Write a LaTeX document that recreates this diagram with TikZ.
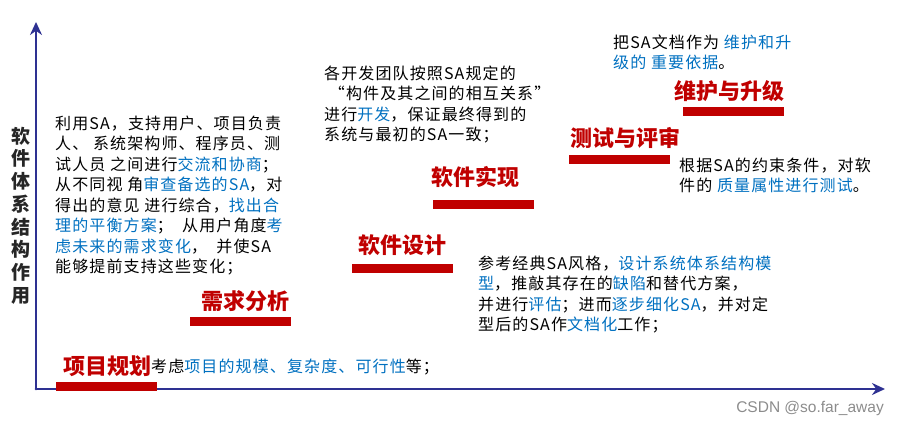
\documentclass[tikz,border=0pt]{standalone}
\usepackage{fontspec}
\newfontfamily\cjk{Noto Sans CJK SC}
\newfontfamily\cjknote[LetterSpace=7]{Noto Sans CJK SC}
\newfontfamily\wmfont{Liberation Sans}
\usetikzlibrary{arrows.meta}
\definecolor{axisblue}{HTML}{2E3192}
\definecolor{stagered}{HTML}{C00000}
\definecolor{keyblue}{HTML}{0070C0}
\newcommand{\kw}[1]{\textcolor{keyblue}{#1}}

\begin{document}
\begin{tikzpicture}[x=1pt,y=-1pt,line cap=round,line join=round,
  >={Stealth[length=13pt,width=12pt]},
  every node/.style={inner sep=0pt,font=\cjk},
  stage/.style={text=stagered,font=\cjk\bfseries\fontsize{22}{24}\selectfont},
  bar/.style={fill=stagered,minimum width=101pt,minimum height=9pt},
  note/.style={anchor=north west,align=left,
    font=\cjknote\fontsize{16}{20.5}\selectfont}]
  \useasboundingbox (0,0) rectangle (899,427);

  % axes
  \coordinate (origin) at (36,389);
  \coordinate (ytop) at (36,22);
  \coordinate (xend) at (885,389);
  \draw[axisblue,line width=2.8pt,->] (origin) -- (ytop);
  \draw[axisblue,line width=2.8pt,->] (origin) -- (xend);
  \node[font=\cjk\bfseries\fontsize{19}{22.7}\selectfont,align=center,
    text=black!85] (ylabel) at (21,215.5)
    {软\\件\\体\\系\\结\\构\\作\\用};

  % stages
  \node[stage] (plan) at (107,366) {项目规划};
  \node[bar] (planbar) at (106.5,386.5) {};
  \node[stage] (req) at (245,301) {需求分析};
  \node[bar] (reqbar) at (240.5,321.5) {};
  \node[stage] (design) at (402.5,245) {软件设计};
  \node[bar] (designbar) at (402.5,269) {};
  \node[stage] (impl) at (475,177) {软件实现};
  \node[bar] (implbar) at (483.5,205) {};
  \node[stage] (test) at (625,138) {测试与评审};
  \node[bar] (testbar) at (619.5,160) {};
  \node[stage] (maint) at (729,91) {维护与升级};
  \node[bar] (maintbar) at (733.5,112) {};

  % notes
  \node[note] (plannote) at (151,357.75)
    {\strut 考虑\kw{项目的规模、复杂度、可行性}等；};
  \node[note] (reqnote) at (55,114.75)
    {\strut 利用SA，支持用户、项目负责\\
     人、 系统架构师、程序员、测\\
     试人员 之间进行\kw{交流和协商}；\\
     从不同视 角\kw{审查备选的SA}，对\\
     得出的意见 进行综合，\kw{找出合}\\
     \kw{理的平衡方案}；\ \ 从用户角度\kw{考}\\
     \kw{虑未来的需求变化}，\ \ 并使SA\\
     能够提前支持这些变化；};
  \node[note] (designnote) at (478,254.75)
    {\strut 参考经典SA风格，\kw{设计系统体系结构模}\\
     \kw{型}，推敲其存在的\kw{缺陷}和替代方案，\\
     并进行\kw{评估}；进而\kw{逐步细化SA}，并对定\\
     型后的SA作\kw{文档化}工作；};
  \node[note] (implnote) at (324,64.75)
    {\strut 各开发团队按照SA规定的\\
     \ “构件及其之间的相互关系”\\
     进行\kw{开发}，保证最终得到的\\
     系统与最初的SA一致；};
  \node[note,font=\cjknote\fontsize{16}{19}\selectfont] (testnote) at (679,157.75)
    {\strut 根据SA的约束条件，对软\\
     件的 \kw{质量属性进行测试}。};
  \node[note,font=\cjknote\fontsize{16}{20}\selectfont] (maintnote) at (613,34.75)
    {\strut 把SA文档作为 \kw{维护和升}\\
     \kw{级的 重要依据}。};

  \node[anchor=east,text=black!45,font=\wmfont\fontsize{15.5}{17}\selectfont]
    (mark) at (884,408) {CSDN @so.far\_away};
\end{tikzpicture}
\end{document}
